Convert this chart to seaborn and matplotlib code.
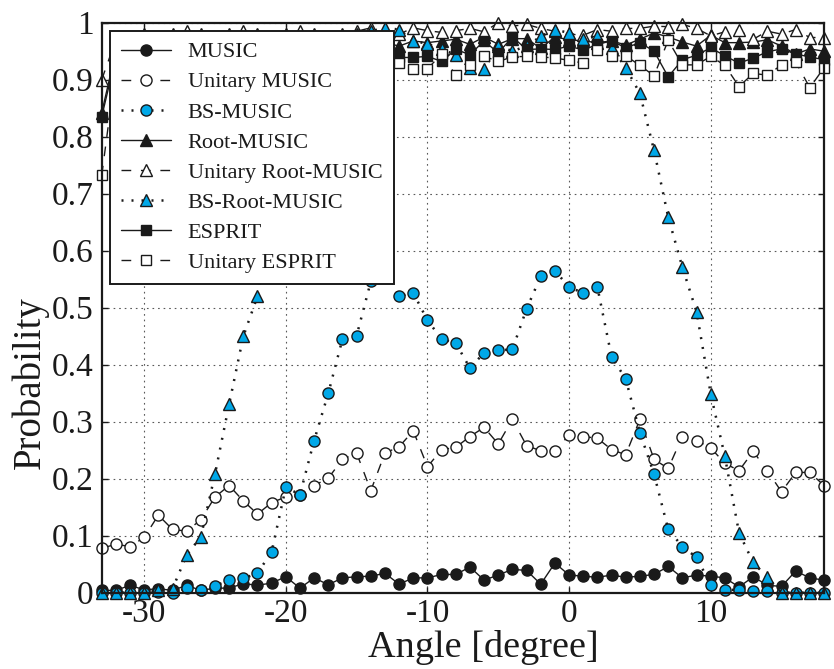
import numpy as np
import matplotlib
matplotlib.use("Agg")
import matplotlib.pyplot as plt
import seaborn as sns

angles = np.arange(-33, 19)

music = [0.004, 0.004, 0.013, 0.005, 0.007, 0.004, 0.013, 0.004, 0.008, 0.008,
         0.016, 0.013, 0.017, 0.028, 0.008, 0.026, 0.014, 0.026, 0.028, 0.029,
         0.034, 0.015, 0.026, 0.026, 0.032, 0.032, 0.045, 0.022, 0.031, 0.041,
         0.039, 0.015, 0.052, 0.031, 0.029, 0.027, 0.031, 0.027, 0.029, 0.032,
         0.046, 0.026, 0.031, 0.029, 0.026, 0.010, 0.028, 0.013, 0.011, 0.038,
         0.026, 0.022]
unitary_music = [0.078, 0.085, 0.081, 0.097, 0.136, 0.111, 0.108, 0.128, 0.168, 0.188,
                 0.161, 0.138, 0.158, 0.168, 0.172, 0.188, 0.201, 0.234, 0.245, 0.179,
                 0.245, 0.256, 0.284, 0.221, 0.251, 0.255, 0.274, 0.290, 0.261, 0.304,
                 0.258, 0.249, 0.248, 0.277, 0.274, 0.271, 0.251, 0.242, 0.304, 0.234,
                 0.218, 0.274, 0.267, 0.254, 0.227, 0.214, 0.248, 0.214, 0.177, 0.211,
                 0.211, 0.188]
bs_music = [0.0, 0.0, 0.0, 0.0, 0.002, 0.0, 0.008, 0.004, 0.012, 0.022,
            0.025, 0.034, 0.072, 0.185, 0.172, 0.267, 0.350, 0.445, 0.451, 0.546,
            0.575, 0.520, 0.526, 0.478, 0.445, 0.438, 0.394, 0.421, 0.425, 0.427,
            0.498, 0.555, 0.565, 0.536, 0.526, 0.536, 0.414, 0.375, 0.281, 0.208,
            0.111, 0.081, 0.062, 0.014, 0.005, 0.005, 0.003, 0.003, 0.0, 0.0,
            0.0, 0.0]
root_music = [0.842, 0.950, 0.960, 0.955, 0.960, 0.965, 0.960, 0.970, 0.960, 0.965,
              0.970, 0.960, 0.965, 0.970, 0.960, 0.965, 0.970, 0.965, 0.960, 0.970,
              0.965, 0.959, 0.968, 0.965, 0.968, 0.971, 0.962, 0.975, 0.962, 0.972,
              0.972, 0.955, 0.975, 0.970, 0.968, 0.965, 0.968, 0.961, 0.971, 0.982,
              0.975, 0.966, 0.959, 0.978, 0.965, 0.965, 0.966, 0.970, 0.959, 0.945,
              0.954, 0.950]
unitary_root_music = [0.900, 0.970, 0.975, 0.980, 0.975, 0.980, 0.985, 0.980, 0.975, 0.980,
                      0.985, 0.980, 0.975, 0.980, 0.985, 0.980, 0.975, 0.980, 0.985, 0.991,
                      0.980, 0.980, 0.991, 0.986, 0.983, 0.986, 0.990, 0.984, 1.000, 0.994,
                      0.997, 0.990, 0.985, 0.980, 0.978, 0.988, 0.985, 0.990, 0.990, 0.994,
                      0.993, 0.997, 0.990, 0.977, 0.984, 0.987, 0.971, 0.985, 0.980, 0.988,
                      0.974, 0.974]
bs_root_music = [0.0, 0.0, 0.0, 0.0, 0.004, 0.007, 0.066, 0.098, 0.208, 0.331,
                 0.450, 0.520, 0.680, 0.820, 0.920, 0.960, 0.970, 0.975, 0.980, 0.985,
                 0.991, 0.988, 0.968, 0.963, 0.953, 0.944, 0.920, 0.918, 0.960, 0.950,
                 0.959, 0.976, 0.988, 0.982, 0.972, 0.976, 0.956, 0.921, 0.876, 0.776,
                 0.659, 0.571, 0.493, 0.349, 0.239, 0.105, 0.053, 0.027, 0.0, 0.0,
                 0.0, 0.0]
esprit = [0.835, 0.940, 0.945, 0.935, 0.940, 0.945, 0.940, 0.935, 0.945, 0.940,
          0.945, 0.935, 0.940, 0.945, 0.940, 0.935, 0.945, 0.940, 0.945, 0.940,
          0.940, 0.939, 0.939, 0.941, 0.932, 0.953, 0.944, 0.968, 0.947, 0.975,
          0.953, 0.954, 0.953, 0.959, 0.952, 0.962, 0.968, 0.956, 0.965, 0.950,
          0.905, 0.935, 0.943, 0.956, 0.942, 0.929, 0.938, 0.949, 0.954, 0.945,
          0.940, 0.935]
unitary_esprit = [0.732, 0.920, 0.930, 0.925, 0.935, 0.930, 0.925, 0.930, 0.935, 0.930,
                  0.925, 0.930, 0.935, 0.930, 0.925, 0.930, 0.935, 0.930, 0.925, 0.930,
                  0.930, 0.929, 0.919, 0.919, 0.945, 0.908, 0.925, 0.941, 0.932, 0.940,
                  0.941, 0.940, 0.938, 0.934, 0.929, 0.952, 0.942, 0.942, 0.925, 0.907,
                  0.969, 0.926, 0.926, 0.941, 0.925, 0.888, 0.911, 0.908, 0.926, 0.931,
                  0.886, 0.921]

labels = ["MUSIC", "Unitary MUSIC", "BS-MUSIC", "Root-MUSIC",
          "Unitary Root-MUSIC", "BS-Root-MUSIC", "ESPRIT", "Unitary ESPRIT"]
xticks = [-30, -20, -10, 0, 10]
yticks = [0, 0.1, 0.2, 0.3, 0.4, 0.5, 0.6, 0.7, 0.8, 0.9, 1]
yticklabels = ["0", "0.1", "0.2", "0.3", "0.4", "0.5", "0.6", "0.7", "0.8", "0.9", "1"]

sns.set_theme(style="white")
plt.rcParams["font.family"] = ["Liberation Serif", "DejaVu Serif"]
plt.rcParams["axes.unicode_minus"] = False

BLUE = "#00A8E8"
SOLID = "-"
DASH = (0, (7, 7))
DOT = (0, (0.8, 3.2))

styles = [
    dict(marker="o", mfc="#1a1a1a", ls=SOLID, lw=1.0, ms=8),
    dict(marker="o", mfc="white", ls=DASH, lw=1.0, ms=8),
    dict(marker="o", mfc=BLUE, ls=DOT, lw=1.8, ms=8),
    dict(marker="^", mfc="#1a1a1a", ls=SOLID, lw=1.0, ms=8.5),
    dict(marker="^", mfc="white", ls=DASH, lw=1.0, ms=8.5),
    dict(marker="^", mfc=BLUE, ls=DOT, lw=1.8, ms=8.5),
    dict(marker="s", mfc="#1a1a1a", ls=SOLID, lw=1.0, ms=7),
    dict(marker="s", mfc="white", ls=DASH, lw=1.0, ms=7),
]
series = [music, unitary_music, bs_music, root_music,
          unitary_root_music, bs_root_music, esprit, unitary_esprit]

fig = plt.figure(figsize=(8.34, 6.69), dpi=100)
ax = fig.add_axes([101.7 / 834, 1 - 592.7 / 669, 722.3 / 834, 570.0 / 669])

for i, (vals, lab, st) in enumerate(zip(series, labels, styles)):
    sns.lineplot(x=angles, y=vals, ax=ax, color="#1a1a1a",
                 marker=st["marker"], markersize=st["ms"],
                 markerfacecolor=st["mfc"], markeredgecolor="#1a1a1a",
                 markeredgewidth=1.0, linestyle=st["ls"], linewidth=st["lw"],
                 label=lab, clip_on=False, zorder=3 + i * 0.1,
                 estimator=None, errorbar=None)

ax.set_xlim(-33, 18)
ax.set_ylim(0, 1)
ax.set_xticks(xticks)
ax.set_xticklabels([str(t) for t in xticks])
ax.set_yticks(yticks)
ax.set_yticklabels(yticklabels)
ax.grid(True, color="0.35", linestyle=(0, (1.5, 3.5)), linewidth=0.8)
ax.set_axisbelow(True)
ax.tick_params(axis="both", which="both", direction="in", length=4.5, width=1.0,
               labelsize=24, top=True, right=True, bottom=True, left=True,
               colors="#1a1a1a", pad=6)
ax.tick_params(axis="x", pad=4)
for sp in ax.spines.values():
    sp.set_linewidth(1.6)
    sp.set_color("#1a1a1a")
    sp.set_zorder(10)

ax.set_xlabel("Angle [degree]", fontsize=27.5, color="#1a1a1a")
ax.set_ylabel("Probability", fontsize=28, color="#1a1a1a")
ax.xaxis.set_label_coords(0.528, -0.066)
ax.yaxis.set_label_coords(-0.073, 0.369)

handles, labs = ax.get_legend_handles_labels()
leg = ax.legend(handles, labs, loc="upper left",
                bbox_to_anchor=(110 / 834, 1 - 30.7 / 669),
                bbox_transform=fig.transFigure,
                fontsize=16, frameon=True, fancybox=False, framealpha=1,
                edgecolor="#1a1a1a", facecolor="white",
                borderpad=0.5, labelspacing=0.43, handlelength=2.25,
                handletextpad=0.75, borderaxespad=0)
leg.get_frame().set_linewidth(1.4)
leg.set_zorder(20)
for t in leg.get_texts():
    t.set_color("#1a1a1a")

fig.savefig("out.png", dpi=100)
